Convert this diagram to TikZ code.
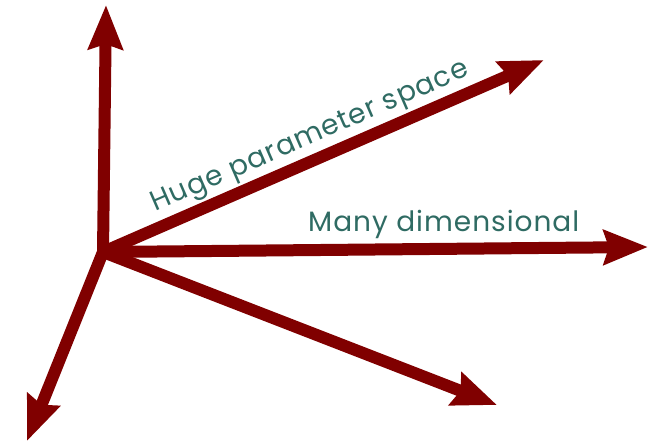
\documentclass[tikz,border=0pt]{standalone}
\usepackage{fontspec}
\setmainfont{Poppins}[LetterSpace=3.5]
\usetikzlibrary{arrows.meta}
\definecolor{axisred}{HTML}{800000}
\definecolor{labelteal}{HTML}{2F6B63}
\tikzset{
  axisarrow/.style={draw=axisred, line width=12pt,
    -{Stealth[length=44pt 0, width=34pt 0, inset=5pt, fill=axisred]}},
  axislabel/.style={text=labelteal, font=\fontsize{28}{30}\selectfont, inner sep=0pt}
}
\begin{document}
\begin{tikzpicture}[x=1pt, y=-1pt]
  \useasboundingbox (0,0) rectangle (662,443);
  \coordinate (O) at (103,252);
  \coordinate (tipUp) at (106,5);
  \coordinate (tipUR) at (544,60);
  \coordinate (tipR) at (648,247);
  \coordinate (tipDR) at (497,405);
  \coordinate (tipDL) at (27,441);
  \draw[axisarrow] (O) -- (tipUp);
  \draw[axisarrow] (O) -- (tipUR);
  \draw[axisarrow] (O) -- (tipR);
  \draw[axisarrow] (O) -- (tipDR);
  \draw[axisarrow] (O) -- (tipDL);
  \node[axislabel, anchor=base west, rotate=23.5] (huge) at (155,212) {Huge parameter space};
  \node[axislabel, anchor=base west] (many) at (308,232) {Many dimensional};
\end{tikzpicture}
\end{document}
